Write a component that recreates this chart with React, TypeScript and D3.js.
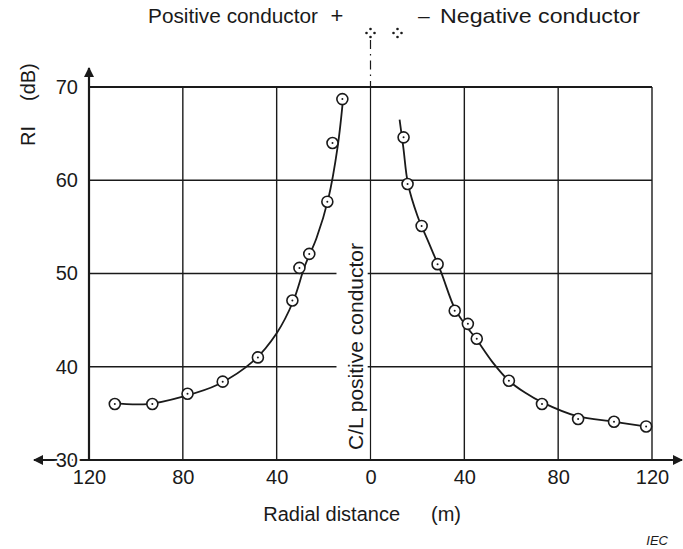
import React, { useEffect, useRef } from 'react';
import * as d3 from 'd3';

// measured points, left of C/L (positive conductor side)
const leftDist = [109, 93, 78, 63, 48, 33.3, 30.3, 26.1, 18.4, 16.2, 12.0];
const leftRI = [36.0, 36.0, 37.1, 38.4, 41.0, 47.1, 50.6, 52.1, 57.7, 64.0, 68.7];

// measured points, right of C/L (negative conductor side)
const rightDist = [14.1, 15.8, 21.8, 28.6, 35.9, 41.5, 45.3, 59.0, 73.1, 88.5, 103.8, 117.5];
const rightRI = [64.6, 59.6, 55.1, 51.0, 46.0, 44.6, 43.0, 38.5, 36.0, 34.4, 34.1, 33.6];

// fitted curves
const leftFitDist = [110, 95, 80, 65, 50, 40, 33, 28, 23, 18, 14, 11.5];
const leftFitRI = [36.1, 36.0, 36.8, 38.1, 40.6, 43.6, 47.0, 50.8, 53.8, 58.0, 63.6, 69.2];
const rightFitDist = [12.4, 14, 16, 20, 25, 30, 36, 41, 45, 52, 59, 66, 73, 88, 104, 120];
const rightFitRI = [66.5, 63.5, 59.6, 56.2, 53.2, 50.2, 46.2, 44.3, 43.0, 40.5, 38.5, 37.2, 36.2, 34.7, 34.1, 33.5];

const xTicks = [-120, -80, -40, 0, 40, 80, 120];
const yTicks = [30, 40, 50, 60, 70];
const gridY = [40, 50, 60];
const gapY = [40, 50]; // these grid lines break where the C/L label sits

const font = 'Liberation Sans, Arial, sans-serif';
const ink = '#1a1a1a';

const App: React.FC = () => {
  const svgRef = useRef<SVGSVGElement>(null);

  useEffect(() => {
    if (!svgRef.current) return;
    const svg = d3.select(svgRef.current);
    svg.selectAll('*').remove();

    const x = d3.scaleLinear().domain([-120, 120]).range([89, 652]);
    const y = d3.scaleLinear().domain([30, 70]).range([460, 87]);

    const defs = svg.append('defs');
    defs.append('marker')
      .attr('id', 'arr')
      .attr('viewBox', '0 0 10 10')
      .attr('refX', 9).attr('refY', 5)
      .attr('markerWidth', 14).attr('markerHeight', 10)
      .attr('markerUnits', 'userSpaceOnUse')
      .attr('orient', 'auto')
      .append('path').attr('d', 'M0,0 L10,5 L0,10 Z').attr('fill', ink);

    const grid = svg.append('g').attr('stroke', ink).attr('stroke-width', 1.4);

    // vertical grid lines
    xTicks.filter(d => d !== -120).forEach(d => {
      grid.append('line')
        .attr('x1', x(d)).attr('x2', x(d))
        .attr('y1', y(70)).attr('y2', y(30))
        .attr('stroke-width', d === 0 ? 1.2 : 1.4);
    });

    // horizontal grid lines
    gridY.forEach(v => {
      if (gapY.includes(v)) {
        grid.append('line').attr('x1', x(-120)).attr('x2', x(-14.5)).attr('y1', y(v)).attr('y2', y(v));
        grid.append('line').attr('x1', x(-1.2)).attr('x2', x(120)).attr('y1', y(v)).attr('y2', y(v));
      } else {
        grid.append('line').attr('x1', x(-120)).attr('x2', x(120)).attr('y1', y(v)).attr('y2', y(v));
      }
    });
    // top frame
    grid.append('line').attr('x1', x(-120)).attr('x2', x(120)).attr('y1', y(70)).attr('y2', y(70)).attr('stroke-width', 2);

    // C/L dash-dot line above plot
    svg.append('line')
      .attr('x1', x(0)).attr('x2', x(0))
      .attr('y1', 40).attr('y2', y(70))
      .attr('stroke', ink).attr('stroke-width', 1.2)
      .attr('stroke-dasharray', '9,5,1.5,5');

    // y axis with arrow
    svg.append('line')
      .attr('x1', x(-120)).attr('x2', x(-120))
      .attr('y1', y(30)).attr('y2', 68)
      .attr('stroke', ink).attr('stroke-width', 2.2)
      .attr('marker-end', 'url(#arr)');

    // x axis with arrows both ways
    svg.append('line')
      .attr('x1', x(-120)).attr('x2', 34)
      .attr('y1', y(30)).attr('y2', y(30))
      .attr('stroke', ink).attr('stroke-width', 2)
      .attr('marker-end', 'url(#arr)');
    svg.append('line')
      .attr('x1', x(-120)).attr('x2', 682)
      .attr('y1', y(30)).attr('y2', y(30))
      .attr('stroke', ink).attr('stroke-width', 2)
      .attr('marker-end', 'url(#arr)');

    // axes labels
    const xAxis = svg.append('g')
      .attr('transform', `translate(0,${y(30)})`)
      .call(d3.axisBottom(x).tickValues(xTicks).tickSize(0).tickPadding(10)
        .tickFormat(d => String(Math.abs(+d))));
    xAxis.select('.domain').remove();
    xAxis.selectAll('text').attr('font-size', 20).attr('font-family', font).attr('fill', ink);

    const yAxis = svg.append('g')
      .attr('transform', `translate(${x(-120) - 9},0)`)
      .call(d3.axisLeft(y).tickValues(yTicks).tickSize(0).tickPadding(2));
    yAxis.select('.domain').remove();
    yAxis.selectAll('text')
      .attr('font-size', 20).attr('font-family', font).attr('fill', ink)
      .attr('stroke', '#fff').attr('stroke-width', 5).attr('paint-order', 'stroke');

    // curves
    const line = d3.line<[number, number]>()
      .x(d => x(d[0])).y(d => y(d[1]))
      .curve(d3.curveCatmullRom.alpha(0.5));

    svg.append('path')
      .datum(leftFitDist.map((d, i) => [-d, leftFitRI[i]] as [number, number]))
      .attr('d', line).attr('fill', 'none').attr('stroke', ink).attr('stroke-width', 1.8);
    svg.append('path')
      .datum(rightFitDist.map((d, i) => [d, rightFitRI[i]] as [number, number]))
      .attr('d', line).attr('fill', 'none').attr('stroke', ink).attr('stroke-width', 1.8);

    // markers
    const pts = [
      ...leftDist.map((d, i) => ({ x: -d, v: leftRI[i] })),
      ...rightDist.map((d, i) => ({ x: d, v: rightRI[i] }))
    ];
    const mk = svg.append('g').selectAll('g').data(pts).join('g')
      .attr('transform', d => `translate(${x(d.x)},${y(d.v)})`);
    mk.append('circle').attr('r', 5.5).attr('fill', '#fff').attr('stroke', ink).attr('stroke-width', 1.6);
    mk.append('circle').attr('r', 1).attr('fill', ink);

    // C/L label
    svg.append('text')
      .attr('transform', `translate(${x(0) - 8},450) rotate(-90)`)
      .attr('font-size', 21).attr('font-family', font).attr('fill', ink)
      .text('C/L positive conductor');

    // titles
    svg.append('text')
      .attr('x', 148).attr('y', 23)
      .attr('font-size', 21).attr('font-family', font).attr('fill', ink)
      .attr('textLength', 170).attr('lengthAdjust', 'spacingAndGlyphs')
      .text('Positive conductor');
    svg.append('text')
      .attr('x', 337).attr('y', 23).attr('text-anchor', 'middle')
      .attr('font-size', 22).attr('font-family', font).attr('fill', ink)
      .text('+');
    svg.append('text')
      .attr('x', 418).attr('y', 23)
      .attr('font-size', 21).attr('font-family', font).attr('fill', ink)
      .text('\u2013');
    svg.append('text')
      .attr('x', 440).attr('y', 23)
      .attr('font-size', 21).attr('font-family', font).attr('fill', ink)
      .attr('textLength', 200).attr('lengthAdjust', 'spacingAndGlyphs')
      .text('Negative conductor');

    // conductor bundle symbols
    [x(0), x(0) + 27].forEach(cx => {
      [[0, -4], [-4, 0], [4, 0], [0, 4]].forEach(([dx, dy]) => {
        svg.append('circle').attr('cx', cx + dx).attr('cy', 33 + dy).attr('r', 1.3).attr('fill', ink);
      });
    });

    svg.append('text')
      .attr('x', 400).attr('y', 521).attr('text-anchor', 'end')
      .attr('font-size', 20).attr('font-family', font).attr('fill', ink)
      .text('Radial distance');
    svg.append('text')
      .attr('x', 431).attr('y', 521).attr('text-anchor', 'start')
      .attr('font-size', 20).attr('font-family', font).attr('fill', ink)
      .text('(m)');

    svg.append('text')
      .attr('transform', 'translate(35,146) rotate(-90)')
      .attr('font-size', 20).attr('font-family', font).attr('fill', ink)
      .text('RI');
    svg.append('text')
      .attr('transform', 'translate(35,101) rotate(-90)')
      .attr('font-size', 20).attr('font-family', font).attr('fill', ink)
      .text('(dB)');

    svg.append('text')
      .attr('x', 668).attr('y', 545).attr('text-anchor', 'end')
      .attr('font-size', 13).attr('font-style', 'italic').attr('font-family', font).attr('fill', ink)
      .text('IEC');
  }, []);

  return (
    <svg ref={svgRef} width={683} height={549}
      style={{ position: 'absolute', left: 0, top: 0, background: '#fff' }} />
  );
};

export default App;
